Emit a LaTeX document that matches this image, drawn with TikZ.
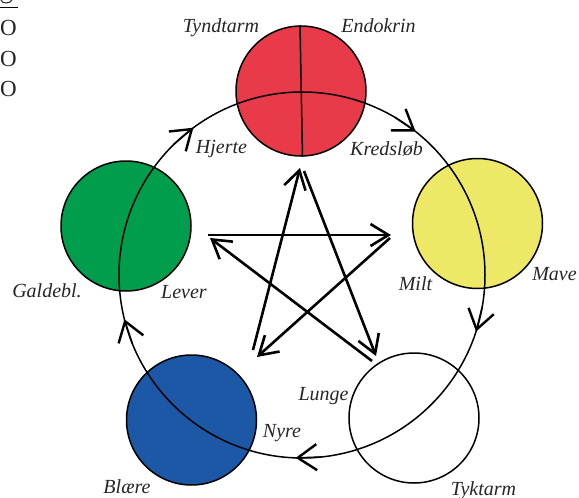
\documentclass[tikz,border=0pt]{standalone}
\usepackage{fontspec}
\setmainfont{Liberation Serif}
\usetikzlibrary{arrows.meta,calc}
\definecolor{cred}{RGB}{232,58,72}
\definecolor{cyellow}{RGB}{237,232,102}
\definecolor{cgreen}{RGB}{0,158,76}
\definecolor{cblue}{RGB}{28,88,165}
\begin{document}
\begin{tikzpicture}[x=1pt,y=-1pt,
  organ/.style={circle,draw=black,line width=1.5pt,minimum size=130pt,inner sep=0pt},
  lbl/.style={font=\fontsize{20}{24}\selectfont\itshape,anchor=base,inner sep=0pt,text=black!85},
  cornermark/.style={font=\fontsize{23}{24}\selectfont,anchor=base west,inner sep=0pt,text=black!85},
  kobar/.style={line width=2.6pt,-{Straight Barb[length=18pt,width=22pt,line width=2.6pt]}},
  cyc/.style={line width=1.5pt},
  cycarr/.style={line width=1.5pt,-{Straight Barb[length=19pt,width=26pt,line width=2.4pt]}},
  ]
\useasboundingbox (0,0) rectangle (579,498);
\fill[white] (0,0) rectangle (579,498);
% corner marks
\draw[line width=1pt,black!85] (1,0) .. controls (2,4) and (10,4) .. (12,0);
\draw[line width=1pt] (0,7) -- (18,7);
\node[cornermark] (o1) at (0,35) {O};
\node[cornermark] (o2) at (0,66) {O};
\node[cornermark] (o3) at (0,96) {O};
% organ circles
\node[organ,fill=cred] (fire) at (301,91) {};
\node[organ,fill=cyellow] (earth) at (477.5,223.5) {};
\node[organ,fill=white] (metal) at (414,418) {};
\node[organ,fill=cblue] (water) at (191.5,420) {};
\node[organ,fill=cgreen] (wood) at (126,226) {};
\draw[line width=1.5pt] ($(fire.north)+(-1,0)$) -- ($(fire.south)+(1.5,0)$);
% big cycle
\coordinate (C) at (302,275);
\draw[cyc] (C) circle[radius=183];
\foreach \a/\nm in {126.4/a1, 51.6/a2, -18/a3, -92/a4, 194/a5}{
  \coordinate (\nm tip) at ($(C)+({183*cos(\a)},{-183*sin(\a)})$);
  \coordinate (\nm tail) at ($(C)+({183*cos(\a+8)},{-183*sin(\a+8)})$);
  \draw[cycarr] (\nm tail) -- (\nm tip);
}
% star
\coordinate (sT) at (300,168);
\coordinate (sTa) at (304,171);
\coordinate (sL) at (210,238);
\coordinate (sLa) at (208,235);
\coordinate (sR) at (391,235);
\coordinate (sRa) at (390,238);
\coordinate (sBL) at (257,357);
\coordinate (sBLa) at (253,350);
\coordinate (sBR) at (376,356);
\coordinate (sBRa) at (372,361);
\draw[kobar] (sBLa) -- (sT);
\draw[kobar] (sTa) -- (sBR);
\draw[kobar] (sBRa) -- (sL);
\draw[kobar] (sLa) -- (sR);
\draw[kobar] (sRa) -- (sBL);
% labels
\node[lbl] (l1) at (221,32) {Tyndtarm};
\node[lbl] (l2) at (378.5,32) {Endokrin};
\node[lbl] (l3) at (221.5,153) {Hjerte};
\node[lbl] (l4) at (386.5,155) {Kredsløb};
\node[lbl] (l5) at (415.5,290) {Milt};
\node[lbl] (l6) at (554.5,280) {Mave};
\node[lbl] (l7) at (47,297) {Galdebl.};
\node[lbl] (l8) at (184,298) {Lever};
\node[lbl] (l9) at (282,437) {Nyre};
\node[lbl] (l10) at (127,493) {Blære};
\node[lbl] (l11) at (323.5,400) {Lunge};
\node[lbl] (l12) at (483.5,495) {Tyktarm};
\end{tikzpicture}
\end{document}
